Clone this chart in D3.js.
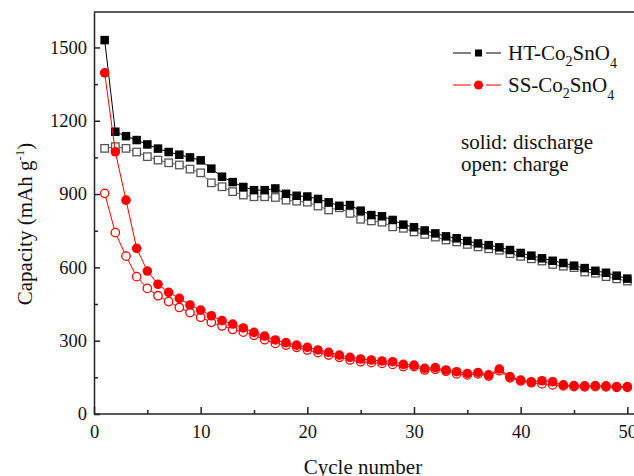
<!DOCTYPE html>
<html>
<head>
<meta charset="utf-8">
<script src="https://cdn.jsdelivr.net/npm/d3@7"></script>
<style>
  html, body { margin: 0; padding: 0; background: #fff; }
  svg { display: block; }
  text { font-family: "Liberation Serif", "Times New Roman", serif; fill: #111; }
</style>
</head>
<body>
<svg id="chart" width="634" height="476"></svg>
<script>
const cycles = [1,2,3,4,5,6,7,8,9,10,11,12,13,14,15,16,17,18,19,20,21,22,23,24,25,
  26,27,28,29,30,31,32,33,34,35,36,37,38,39,40,41,42,43,44,45,46,47,48,49,50];
const htDischarge = [1530,1155,1137,1121,1103,1086,1072,1061,1050,1038,1004,971,949,929,916,916,923,901,893,890,
  880,866,852,855,832,814,809,794,775,764,751,739,727,719,708,698,691,682,671,659,
  648,637,627,618,607,597,586,578,566,554];
const htCharge = [1087,1094,1087,1072,1053,1039,1028,1019,1002,987,946,930,910,896,889,889,886,875,871,867,
  851,835,844,821,797,790,785,766,760,745,735,724,712,704,694,684,676,670,656,645,
  635,626,612,605,599,581,576,562,553,544];
const ssDischarge = [1396,1073,875,678,585,531,498,473,446,425,402,382,368,352,334,319,303,292,282,273,
  262,252,241,232,225,221,217,214,203,200,187,190,180,173,166,170,160,184,153,139,
  132,136,132,119,116,115,116,115,112,112];
const ssCharge = [903,742,646,562,514,484,460,436,415,396,375,360,346,335,322,304,289,282,273,262,
  251,241,232,221,214,210,207,203,194,194,180,183,175,164,160,164,155,177,148,135,
  128,123,119,115,112,111,112,111,109,109];
const xMajorTicks = [0,10,20,30,40,50];
const xMinorTicks = [5,15,25,35,45];
const yMajorTicks = [0,300,600,900,1200,1500];
const yMinorTicks = [150,450,750,1050,1350];
const xTitle = "Cycle number";
const legendNames = ["HT-Co", "SS-Co"];
const noteLines = ["solid: discharge", "open: charge"];

const svg = d3.select("#chart");
const x = d3.scaleLinear().domain([0, 51]).range([94, 638]);
const y = d3.scaleLinear().domain([0, 1645]).range([414, 12]);

const axisColor = "#222";

// frame top
svg.append("line").attr("x1", 94).attr("x2", 640).attr("y1", y(1645)).attr("y2", y(1645))
  .attr("stroke", axisColor).attr("stroke-width", 1.5);

// axes
const gx = svg.append("g").attr("transform", `translate(0,${y(0)})`)
  .call(d3.axisBottom(x).tickValues(xMajorTicks).tickFormat(d3.format("d")).tickSizeInner(-7).tickSizeOuter(0).tickPadding(11));
const gxm = svg.append("g").attr("transform", `translate(0,${y(0)})`)
  .call(d3.axisBottom(x).tickValues(xMinorTicks).tickSizeInner(-4).tickSizeOuter(0).tickFormat(""));
gxm.select(".domain").remove();
const gy = svg.append("g").attr("transform", `translate(${x(0)},0)`)
  .call(d3.axisLeft(y).tickValues(yMajorTicks).tickFormat(d3.format("d")).tickSizeInner(-6).tickSizeOuter(0).tickPadding(7));
const gym = svg.append("g").attr("transform", `translate(${x(0)},0)`)
  .call(d3.axisLeft(y).tickValues(yMinorTicks).tickSizeInner(-4).tickSizeOuter(0).tickFormat(""));
gym.select(".domain").remove();
gx.select(".domain").attr("d", `M${x(0)},0H640`);
svg.selectAll(".domain").attr("stroke", axisColor).attr("stroke-width", 1.5);
svg.selectAll(".tick line").attr("stroke", axisColor).attr("stroke-width", 1.5);
svg.selectAll(".tick text").attr("font-family", "Liberation Serif").attr("font-size", 18.5).attr("fill", "#222");

// titles
svg.append("text").attr("x", 363).attr("y", 474).attr("text-anchor", "middle")
  .attr("font-size", 21).text(xTitle);
const yl = svg.append("text").attr("transform", "translate(32,224) rotate(-90)")
  .attr("text-anchor", "middle").attr("font-size", 21);
yl.append("tspan").text("Capacity (mAh g");
yl.append("tspan").attr("dy", -8).attr("font-size", 13).text("-1");
yl.append("tspan").attr("dy", 8).text(")");

// series
const line = (vals) => d3.line().x((d, i) => x(cycles[i])).y(d => y(d))(vals);

svg.append("path").attr("d", line(htCharge)).attr("fill", "none").attr("stroke", "#666").attr("stroke-width", 1);
svg.append("path").attr("d", line(htDischarge)).attr("fill", "none").attr("stroke", "#000").attr("stroke-width", 1);

const sq = 8.5;
svg.append("g").selectAll("rect").data(htCharge).join("rect")
  .attr("x", (d, i) => x(cycles[i]) - sq / 2 + 0.5).attr("y", d => y(d) - sq / 2 + 0.5)
  .attr("width", sq - 1).attr("height", sq - 1)
  .attr("fill", "#fff").attr("stroke", "#555").attr("stroke-width", 1.3);
svg.append("g").selectAll("rect").data(htDischarge).join("rect")
  .attr("x", (d, i) => x(cycles[i]) - sq / 2).attr("y", d => y(d) - sq / 2)
  .attr("width", sq).attr("height", sq).attr("fill", "#000");

svg.append("path").attr("d", line(ssCharge)).attr("fill", "none").attr("stroke", "#ff0000").attr("stroke-width", 1);
svg.append("path").attr("d", line(ssDischarge)).attr("fill", "none").attr("stroke", "#ff0000").attr("stroke-width", 1);
svg.append("g").selectAll("circle").data(ssCharge).join("circle")
  .attr("cx", (d, i) => x(cycles[i])).attr("cy", d => y(d)).attr("r", 4.2)
  .attr("fill", "#fff").attr("stroke", "#ff0000").attr("stroke-width", 1.3);
svg.append("g").selectAll("circle").data(ssDischarge).join("circle")
  .attr("cx", (d, i) => x(cycles[i])).attr("cy", d => y(d)).attr("r", 4.8)
  .attr("fill", "#ff0000");

// legend
const leg = svg.append("g");
const rows = [{ y: 53, color: "#000", name: legendNames[0], shape: "sq" },
              { y: 85, color: "#ff0000", name: legendNames[1], shape: "ci" }];
rows.forEach(r => {
  leg.append("line").attr("x1", 453).attr("x2", 471).attr("y1", r.y).attr("y2", r.y).attr("stroke", r.color).attr("stroke-width", 1);
  leg.append("line").attr("x1", 486).attr("x2", 501).attr("y1", r.y).attr("y2", r.y).attr("stroke", r.color).attr("stroke-width", 1);
  if (r.shape === "sq") {
    leg.append("rect").attr("x", 475).attr("y", r.y - 3.5).attr("width", 7).attr("height", 7).attr("fill", r.color);
  } else {
    leg.append("circle").attr("cx", 478.5).attr("cy", r.y).attr("r", 4.5).attr("fill", r.color);
  }
  const t = leg.append("text").attr("x", 508).attr("y", r.y + 6.5).attr("font-size", 21);
  t.append("tspan").text(r.name);
  t.append("tspan").attr("dy", 6).attr("font-size", 14).text("2");
  t.append("tspan").attr("dy", -6).text("SnO");
  t.append("tspan").attr("dy", 8).attr("font-size", 14).text("4");
});
leg.append("text").attr("x", 461).attr("y", 149).attr("font-size", 21).text(noteLines[0]);
leg.append("text").attr("x", 461).attr("y", 171).attr("font-size", 21).text(noteLines[1]);
</script>
</body>
</html>
